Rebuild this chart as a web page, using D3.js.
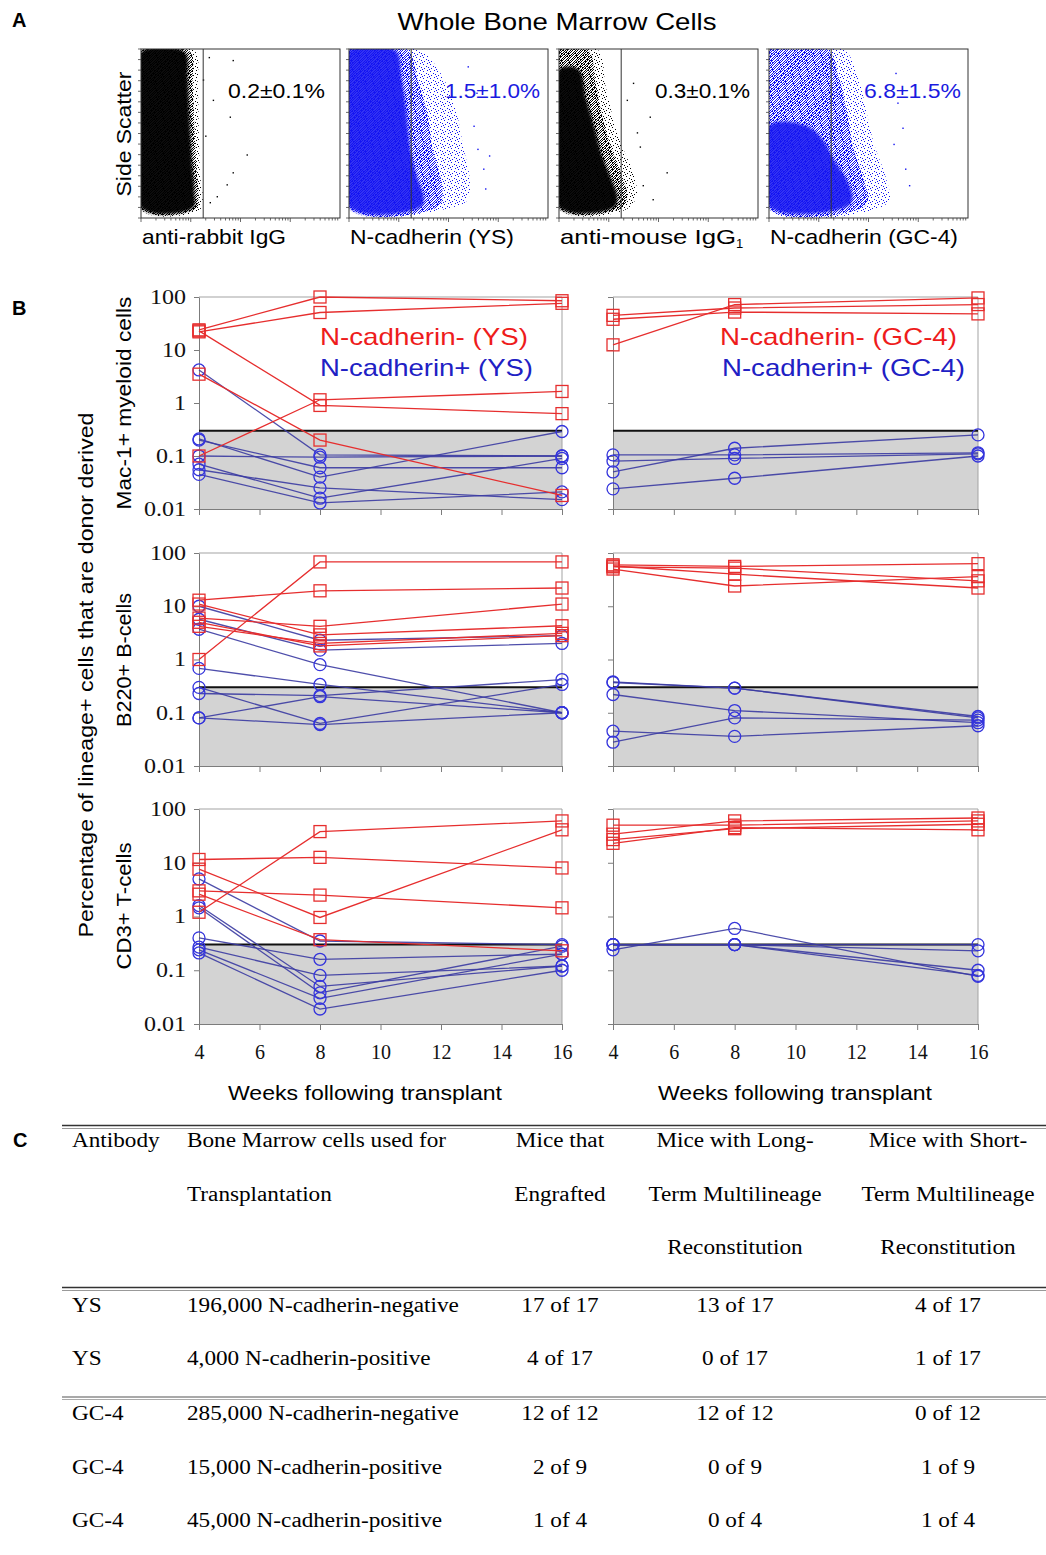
<!DOCTYPE html>
<html>
<head>
<meta charset="utf-8">
<title>N-cadherin and bone marrow reconstitution</title>
<script src="https://cdn.jsdelivr.net/npm/d3@7/dist/d3.min.js"></script>
<style>
  body { margin: 0; background: #fff; }
  .sans { font-family: 'Liberation Sans', Arial, sans-serif; }
  .serif { font-family: 'Liberation Serif', 'Times New Roman', serif; }
</style>
</head>
<body>
<svg id="figure" width="1046" height="1555"></svg>
<script>
// ---- A: flow plots. outlines of the event clouds, in channels (0-1023)
var flowLabels = [ 'anti-rabbit IgG', 'N-cadherin (YS)', 'anti-mouse IgG', 'N-cadherin (GC-4)' ],
    flowPercents = [ '0.2\u00b10.1%', '1.5\u00b11.0%', '0.3\u00b10.1%', '6.8\u00b11.5%' ],
    gateChannel = 320;

var flowCore1 = [ [0,1005], [225,1005], [240,850], [250,600], [262,350], [275,150], [268,62], [0,62] ],
    flowMid1 = [ [0,1010], [250,1010], [265,800], [275,550], [285,300], [295,140], [285,57], [0,57] ],
    flowHalo1 = [ [0,1014], [275,1014], [292,800], [298,500], [305,250], [318,120], [302,50], [0,50] ],
    flowStray1 = [ [348,976], [471,958], [369,717], [456,615], [543,386], [471,278], [440,205], [389,133], [353,97], [330,500], [318,840] ];

var flowCore2 = [ [0,1015], [240,1015], [270,850], [295,650], [315,420], [350,250], [385,120], [370,66], [0,66] ],
    flowMid2 = [ [0,1018], [300,1018], [350,850], [400,650], [430,420], [470,250], [480,120], [450,62], [0,62] ],
    flowHalo2 = [ [0,1020], [360,1020], [470,880], [550,650], [590,420], [620,250], [610,110], [520,60], [0,58] ],
    flowStray2 = [ [660,420], [690,300], [640,560], [700,180], [655,760], [610,920], [720,380] ];

var flowCore3 = [ [0,900], [100,900], [140,720], [180,560], [215,400], [260,260], [300,130], [285,65], [0,65] ],
    flowMid3 = [ [0,1016], [150,1016], [190,800], [230,580], [270,420], [320,270], [350,130], [320,60], [0,60] ],
    flowHalo3 = [ [0,1018], [200,1018], [240,800], [280,600], [330,420], [380,280], [400,140], [350,55], [0,55] ],
    flowStray3 = [ [466,615], [415,434], [553,278], [481,115], [348,717], [430,200], [400,520], [380,820] ];

var flowCore4 = [ [0,560], [190,560], [280,470], [330,360], [400,230], [430,120], [400,68], [0,68] ],
    flowMid4 = [ [0,1020], [300,1020], [360,850], [400,650], [430,440], [480,260], [510,115], [480,62], [0,60] ],
    flowHalo4 = [ [0,1024], [380,1024], [460,850], [500,650], [540,450], [600,250], [620,110], [560,58], [0,55] ],
    flowStray4 = [ [686,548], [660,700], [700,300], [650,880], [720,200], [640,450] ];

// ---- B: % donor derived per mouse at weeks 4, 8, 16
var weeks = [ 4, 8, 16 ],
    weekTicks = [ 4, 6, 8, 10, 12, 14, 16 ],
    percentTicks = [ 0.01, 0.1, 1, 10, 100 ],
    cutoff = 0.3;

var lineageTitles = [ 'Mac-1+ myeloid cells', 'B220+ B-cells', 'CD3+ T-cells' ],
    legendNeg = [ 'N-cadherin- (YS)', 'N-cadherin- (GC-4)' ],
    legendPos = [ 'N-cadherin+ (YS)', 'N-cadherin+ (GC-4)' ];

var macYsNeg = [ [24,100,85], [22,51,76], [23,0.9,0.63], [0.1,1.15,1.65], [3.5,0.2,0.018] ],
    macYsPos = [ [4.2,0.105,0.1], [0.2,0.06,0.06], [0.21,0.04,0.29], [0.1,0.095,0.1], [0.07,0.016,0.09], [0.055,0.025,0.015], [0.045,0.013,0.021] ],
    macGcNeg = [ [12.5,72,96], [45,62,72], [38,52,48] ],
    macGcPos = [ [0.05,0.14,0.25], [0.105,0.105,0.115], [0.08,0.09,0.11], [0.024,0.038,0.1] ];

var b220YsNeg = [ [1.0,68,68], [13,19.5,22], [11,2.9,4.3], [6,4.2,11], [5,1.8,2.8], [4.2,2.0,3.1] ],
    b220YsPos = [ [10,2.3,2.8], [5.7,1.5,2.0], [3.7,0.8,0.1], [0.68,0.34,0.1], [0.3,0.063,0.34], [0.23,0.21,0.42], [0.08,0.2,0.1], [0.08,0.06,0.1] ],
    b220GcNeg = [ [60,56,63], [57,40,22], [50,24,36], [55,52,30] ],
    b220GcPos = [ [0.38,0.29,0.085], [0.37,0.29,0.08], [0.22,0.11,0.065], [0.028,0.08,0.073], [0.045,0.036,0.057] ];

var cd3YsNeg = [ [1.2,38,60], [11.5,12.6,8], [7.6,0.96,41], [3.0,2.5,1.45], [2.6,0.37,0.23] ],
    cd3YsPos = [ [5,0.35,0.3], [1.6,0.05,0.12], [1.45,0.038,0.28], [0.4,0.16,0.2], [0.27,0.08,0.12], [0.24,0.03,0.2], [0.21,0.019,0.1] ],
    cd3GcNeg = [ [50,50,60], [34,60,68], [27,43,52], [23,45,41] ],
    cd3GcPos = [ [0.24,0.6,0.077], [0.3,0.3,0.23], [0.3,0.3,0.1], [0.3,0.3,0.08], [0.3,0.3,0.3] ];

// ---- C: transplant table
var tableHeads = [
  [ 'Antibody' ],
  [ 'Bone Marrow cells used for', 'Transplantation' ],
  [ 'Mice that', 'Engrafted' ],
  [ 'Mice with Long-', 'Term Multilineage', 'Reconstitution' ],
  [ 'Mice with Short-', 'Term Multilineage', 'Reconstitution' ]
];
var tableAntibody = [ 'YS', 'YS', 'GC-4', 'GC-4', 'GC-4' ],
    tableCells = [ '196,000 N-cadherin-negative', '4,000 N-cadherin-positive', '285,000 N-cadherin-negative', '15,000 N-cadherin-positive', '45,000 N-cadherin-positive' ],
    tableEngrafted = [ '17 of 17', '4 of 17', '12 of 12', '2 of 9', '1 of 4' ],
    tableLongTerm = [ '13 of 17', '0 of 17', '12 of 12', '0 of 9', '0 of 4' ],
    tableShortTerm = [ '4 of 17', '1 of 17', '0 of 12', '1 of 9', '1 of 4' ];


var svg = d3.select('#figure'),
    red = '#e62e2e',
    blueLine = '#3b3ba2',
    blueMark = '#3434dc';

/*-- helpers --*/
function addText( x, y, str, o )
{
  var t = svg.append('text')
    .attr('class', o.serif ? 'serif' : 'sans')
    .attr('font-size', o.size || 20)
    .attr('font-weight', o.bold ? 'bold' : null)
    .attr('fill', o.fill || '#000')
    .attr('text-anchor', o.anchor || 'start')
    .attr('dominant-baseline', 'central')
    .text( str );

  if( o.rotate )
  {
    t.attr('transform', 'translate(' + x + ',' + y + ') rotate(-90)');
  }
  else
  {
    t.attr('x', x).attr('y', y);
  }
  if( o.len )
  {
    t.attr('textLength', o.len).attr('lengthAdjust', 'spacingAndGlyphs');
  }
  return t;
}

function stretch( sel, k )
{
  sel.each( function()
  {
    var w = this.getComputedTextLength();
    d3.select( this ).attr('textLength', w * k).attr('lengthAdjust', 'spacingAndGlyphs');
  } );
}


/*-- panel A --*/
var flowCores = [ flowCore1, flowCore2, flowCore3, flowCore4 ],
    flowMids = [ flowMid1, flowMid2, flowMid3, flowMid4 ],
    flowHalos = [ flowHalo1, flowHalo2, flowHalo3, flowHalo4 ],
    flowStrays = [ flowStray1, flowStray2, flowStray3, flowStray4 ],
    flowInk = [ '#000', '#1212f2', '#000', '#1212f2' ],
    flowLeft = [ 141, 349, 559, 769 ],
    flowTop = 49,
    flowW = 199,
    flowH = 169;

var defs = svg.append('defs');

defs.append('filter').attr('id', 'soft')
  .attr('x', '-10%').attr('y', '-10%').attr('width', '120%').attr('height', '120%')
  .append('feGaussianBlur').attr('stdDeviation', 1.6);

[ [ 'k', '#000' ], [ 'b', '#1212f2' ] ].forEach( function( c )
{
  var sparse = defs.append('pattern').attr('id', 'sparse-' + c[0])
        .attr('width', 7).attr('height', 7).attr('patternUnits', 'userSpaceOnUse'),
      mid = defs.append('pattern').attr('id', 'mid-' + c[0])
        .attr('width', 5).attr('height', 5).attr('patternUnits', 'userSpaceOnUse');

  [ [0,0], [3,1], [6,3], [1,4], [4,5], [2,6] ].forEach( function( p )
  {
    sparse.append('rect').attr('x', p[0]).attr('y', p[1]).attr('width', 1).attr('height', 1).attr('fill', c[1]);
  } );
  [ [0,0], [2,0], [4,1], [1,1], [3,2], [0,2], [2,3], [4,3], [1,4], [3,4] ].forEach( function( p )
  {
    mid.append('rect').attr('x', p[0]).attr('y', p[1]).attr('width', 1).attr('height', 1).attr('fill', c[1]);
  } );
} );

flowLeft.forEach( function( left, i )
{
  var x = d3.scaleLinear().domain([ 0, 1024 ]).range([ left, left + flowW ]),
      y = d3.scaleLinear().domain([ 0, 1024 ]).range([ flowTop + flowH, flowTop ]),
      key = flowInk[i] === '#000' ? 'k' : 'b',
      shape = d3.line().x( function( d ) { return x( d[0] ); } ).y( function( d ) { return y( d[1] ); } )
        .curve( d3.curveCatmullRomClosed ),
      g = svg.append('g'),
      k, m, ch;

  defs.append('clipPath').attr('id', 'flow-clip-' + i)
    .append('rect').attr('x', left).attr('y', flowTop).attr('width', flowW).attr('height', flowH);

  var cloud = g.append('g').attr('clip-path', 'url(#flow-clip-' + i + ')');
  cloud.append('path').datum( flowHalos[i] ).attr('d', shape).attr('fill', 'url(#sparse-' + key + ')');
  cloud.append('path').datum( flowMids[i] ).attr('d', shape).attr('fill', 'url(#mid-' + key + ')');
  cloud.append('path').datum( flowCores[i] ).attr('d', shape)
    .attr('fill', flowInk[i])
    .attr('opacity', key === 'k' ? 0.95 : 0.88)
    .attr('filter', 'url(#soft)');
  cloud.selectAll('rect.ev')
    .data( flowStrays[i] )
    .enter()
      .append('rect')
      .attr('class', 'ev')
      .attr('x', function( d ) { return x( d[0] ); })
      .attr('y', function( d ) { return y( d[1] ); })
      .attr('width', 1.4)
      .attr('height', 1.4)
      .attr('fill', flowInk[i]);

  g.append('rect')
    .attr('x', left).attr('y', flowTop).attr('width', flowW).attr('height', flowH)
    .attr('fill', 'none').attr('stroke', '#333').attr('stroke-width', 1);

  g.append('line')
    .attr('x1', x( gateChannel )).attr('x2', x( gateChannel ))
    .attr('y1', flowTop).attr('y2', flowTop + flowH)
    .attr('stroke', '#333').attr('stroke-width', 1);

  // log decade ticks along the bottom, side scatter ticks on the left
  for( k = 0; k < 4; k++ )
  {
    for( m = 1; m < 10; m++ )
    {
      ch = 256 * ( k + Math.log10( m ) );
      g.append('line')
        .attr('x1', x( ch )).attr('x2', x( ch ))
        .attr('y1', flowTop + flowH).attr('y2', flowTop + flowH + ( m === 1 ? 4 : 2.5 ))
        .attr('stroke', '#444').attr('stroke-width', 0.8);
    }
  }
  for( ch = 0; ch <= 1024; ch += 64 )
  {
    g.append('line')
      .attr('x1', left - 3).attr('x2', left)
      .attr('y1', y( ch )).attr('y2', y( ch ))
      .attr('stroke', '#444').attr('stroke-width', 0.8);
  }
} );

addText( 12, 20, 'A', { bold: true, size: 20 } );
addText( 557, 21, 'Whole Bone Marrow Cells', { anchor: 'middle', size: 24, len: 319 } );
addText( 123, 134, 'Side Scatter', { anchor: 'middle', size: 21, rotate: true, len: 125 } );

var percentX = [ 228, 445, 655, 864 ],
    percentLen = [ 97, 95, 95, 97 ],
    labelLen = [ 144, 164, 176, 188 ];

flowPercents.forEach( function( s, i )
{
  addText( percentX[i], 90, s, { size: 21, fill: flowInk[i] === '#000' ? '#000' : '#1a1ae0', len: percentLen[i] } );
} );
flowLabels.forEach( function( s, i )
{
  var t = addText( flowLeft[i] + 1, 236, '', { size: 21 } );
  t.append('tspan').text( s ).attr('textLength', labelLen[i]).attr('lengthAdjust', 'spacingAndGlyphs');
  if( i === 2 )
  {
    t.append('tspan').text('1').attr('font-size', 13).attr('dy', 7);
  }
} );


/*-- panel B --*/
var colRange = [ [ 199, 562 ], [ 613, 978 ] ],
    rowRange = [ [ 297, 509 ], [ 553, 766 ], [ 809, 1024 ] ];

var graphs = [
  { row: 0, col: 0, neg: macYsNeg, pos: macYsPos },
  { row: 0, col: 1, neg: macGcNeg, pos: macGcPos },
  { row: 1, col: 0, neg: b220YsNeg, pos: b220YsPos },
  { row: 1, col: 1, neg: b220GcNeg, pos: b220GcPos },
  { row: 2, col: 0, neg: cd3YsNeg, pos: cd3YsPos },
  { row: 2, col: 1, neg: cd3GcNeg, pos: cd3GcPos }
];

graphs.forEach( drawGraph );

function drawGraph( p )
{
  var x = d3.scaleLinear().domain([ 4, 16 ]).range( colRange[p.col] ),
      y = d3.scaleLog().domain([ 0.01, 100 ]).range([ rowRange[p.row][1], rowRange[p.row][0] ]),
      g = svg.append('g'),
      line = d3.line()
        .x( function( d, i ) { return x( weeks[i] ); } )
        .y( function( d ) { return y( d ); } );

  // shaded area under the detection cutoff
  g.append('rect')
    .attr('x', x( 4 )).attr('y', y( cutoff ))
    .attr('width', x( 16 ) - x( 4 )).attr('height', y( 0.01 ) - y( cutoff ))
    .attr('fill', '#d3d3d3');

  g.append('path')
    .attr('d', 'M' + x( 4 ) + ',' + y( 100 ) + 'H' + x( 16 ) + 'V' + y( 0.01 ))
    .attr('fill', 'none').attr('stroke', '#a3a3a3').attr('stroke-width', 1);

  var gy = g.append('g')
    .attr('transform', 'translate(' + x( 4 ) + ',0)')
    .call( d3.axisLeft( y ).tickValues( percentTicks ).tickSize( 5 ).tickSizeOuter( 0 ).tickPadding( 8 )
      .tickFormat( p.col === 0 ? function( d ) { return String( d ); } : function() { return ''; } ) );

  var gx = g.append('g')
    .attr('transform', 'translate(0,' + y( 0.01 ) + ')')
    .call( d3.axisBottom( x ).tickValues( weekTicks ).tickSize( 6 ).tickSizeOuter( 0 ).tickPadding( 15 )
      .tickFormat( p.row === 2 ? d3.format('d') : function() { return ''; } ) );

  [ gy, gx ].forEach( function( a )
  {
    a.attr('font-family', null).attr('font-size', null);
    a.select('.domain').attr('stroke', '#7c7c7c');
    a.selectAll('.tick line').attr('stroke', '#7c7c7c');
    a.selectAll('.tick text').attr('class', 'serif').attr('fill', '#111');
  } );
  gy.selectAll('.tick text').attr('font-size', 20);
  gx.selectAll('.tick text').attr('font-size', 20);
  stretch( gy.selectAll('.tick text'), 1.2 );

  g.append('line')
    .attr('x1', x( 4 )).attr('x2', x( 16 ))
    .attr('y1', y( cutoff )).attr('y2', y( cutoff ))
    .attr('stroke', '#111').attr('stroke-width', 2);

  // N-cadherin+ mice
  g.selectAll('path.pos')
    .data( p.pos )
    .enter()
      .append('path')
      .attr('class', 'pos')
      .attr('d', line)
      .attr('fill', 'none')
      .attr('stroke', blueLine)
      .attr('stroke-width', 1.3)
      .attr('opacity', 0.9);

  g.selectAll('g.posMarks')
    .data( p.pos )
    .enter()
      .append('g')
      .attr('class', 'posMarks')
      .selectAll('circle')
      .data( function( d ) { return d; } )
      .enter()
        .append('circle')
        .attr('cx', function( d, i ) { return x( weeks[i] ); })
        .attr('cy', function( d ) { return y( d ); })
        .attr('r', 6)
        .attr('fill', 'none')
        .attr('stroke', blueMark)
        .attr('stroke-width', 1.3);

  // N-cadherin- mice
  g.selectAll('path.neg')
    .data( p.neg )
    .enter()
      .append('path')
      .attr('class', 'neg')
      .attr('d', line)
      .attr('fill', 'none')
      .attr('stroke', red)
      .attr('stroke-width', 1.3);

  g.selectAll('g.negMarks')
    .data( p.neg )
    .enter()
      .append('g')
      .attr('class', 'negMarks')
      .selectAll('rect')
      .data( function( d ) { return d; } )
      .enter()
        .append('rect')
        .attr('x', function( d, i ) { return x( weeks[i] ) - 6; })
        .attr('y', function( d ) { return y( d ) - 6; })
        .attr('width', 12)
        .attr('height', 12)
        .attr('fill', 'none')
        .attr('stroke', red)
        .attr('stroke-width', 1.3);
}

addText( 12, 308, 'B', { bold: true, size: 20 } );
addText( 85, 675, 'Percentage of lineage+ cells that are donor derived', { anchor: 'middle', size: 21, rotate: true, len: 525 } );

var titleY = [ 403, 660, 906 ],
    titleLen = [ 213, 134, 127 ];
lineageTitles.forEach( function( s, i )
{
  addText( 123, titleY[i], s, { anchor: 'middle', size: 21, rotate: true, len: titleLen[i] } );
} );

var legendX = [ 320, 720 ],
    legendNegLen = [ 208, 237 ],
    legendPosLen = [ 213, 243 ];
legendNeg.forEach( function( s, i )
{
  addText( legendX[i], 336, s, { size: 24, fill: '#ee1c1c', len: legendNegLen[i] } );
  addText( legendX[i] + ( i ? 2 : 0 ), 367, legendPos[i], { size: 24, fill: '#2020c4', len: legendPosLen[i] } );
} );

addText( 365, 1092, 'Weeks following transplant', { anchor: 'middle', size: 21, len: 274 } );
addText( 795, 1092, 'Weeks following transplant', { anchor: 'middle', size: 21, len: 274 } );


/*-- panel C --*/
var colX = [ 72, 187, 560, 735, 948 ],
    colAnchor = [ 'start', 'start', 'middle', 'middle', 'middle' ],
    headY = [ 1140, 1194, 1247 ],
    rowY = [ 1305, 1358, 1413, 1467, 1520 ],
    tableCols = [ tableAntibody, tableCells, tableEngrafted, tableLongTerm, tableShortTerm ];

addText( 13, 1140, 'C', { bold: true, size: 20 } );

function rule( y, color, w )
{
  svg.append('line')
    .attr('x1', 62).attr('x2', 1046)
    .attr('y1', y).attr('y2', y)
    .attr('stroke', color).attr('stroke-width', w);
}
rule( 1125.5, '#333', 1.5 );
rule( 1128.5, '#999', 1.2 );
rule( 1287.5, '#333', 1.5 );
rule( 1290.5, '#999', 1.2 );
rule( 1397, '#555', 1.2 );
rule( 1399.5, '#aaa', 1 );

tableHeads.forEach( function( lines, c )
{
  lines.forEach( function( s, r )
  {
    stretch( addText( colX[c], headY[r], s, { serif: true, size: 20, anchor: colAnchor[c] } ), 1.16 );
  } );
} );

tableCols.forEach( function( col, c )
{
  col.forEach( function( s, r )
  {
    stretch( addText( colX[c], rowY[r], s, { serif: true, size: 20, anchor: colAnchor[c] } ), 1.16 );
  } );
} );
</script>
</body>
</html>
